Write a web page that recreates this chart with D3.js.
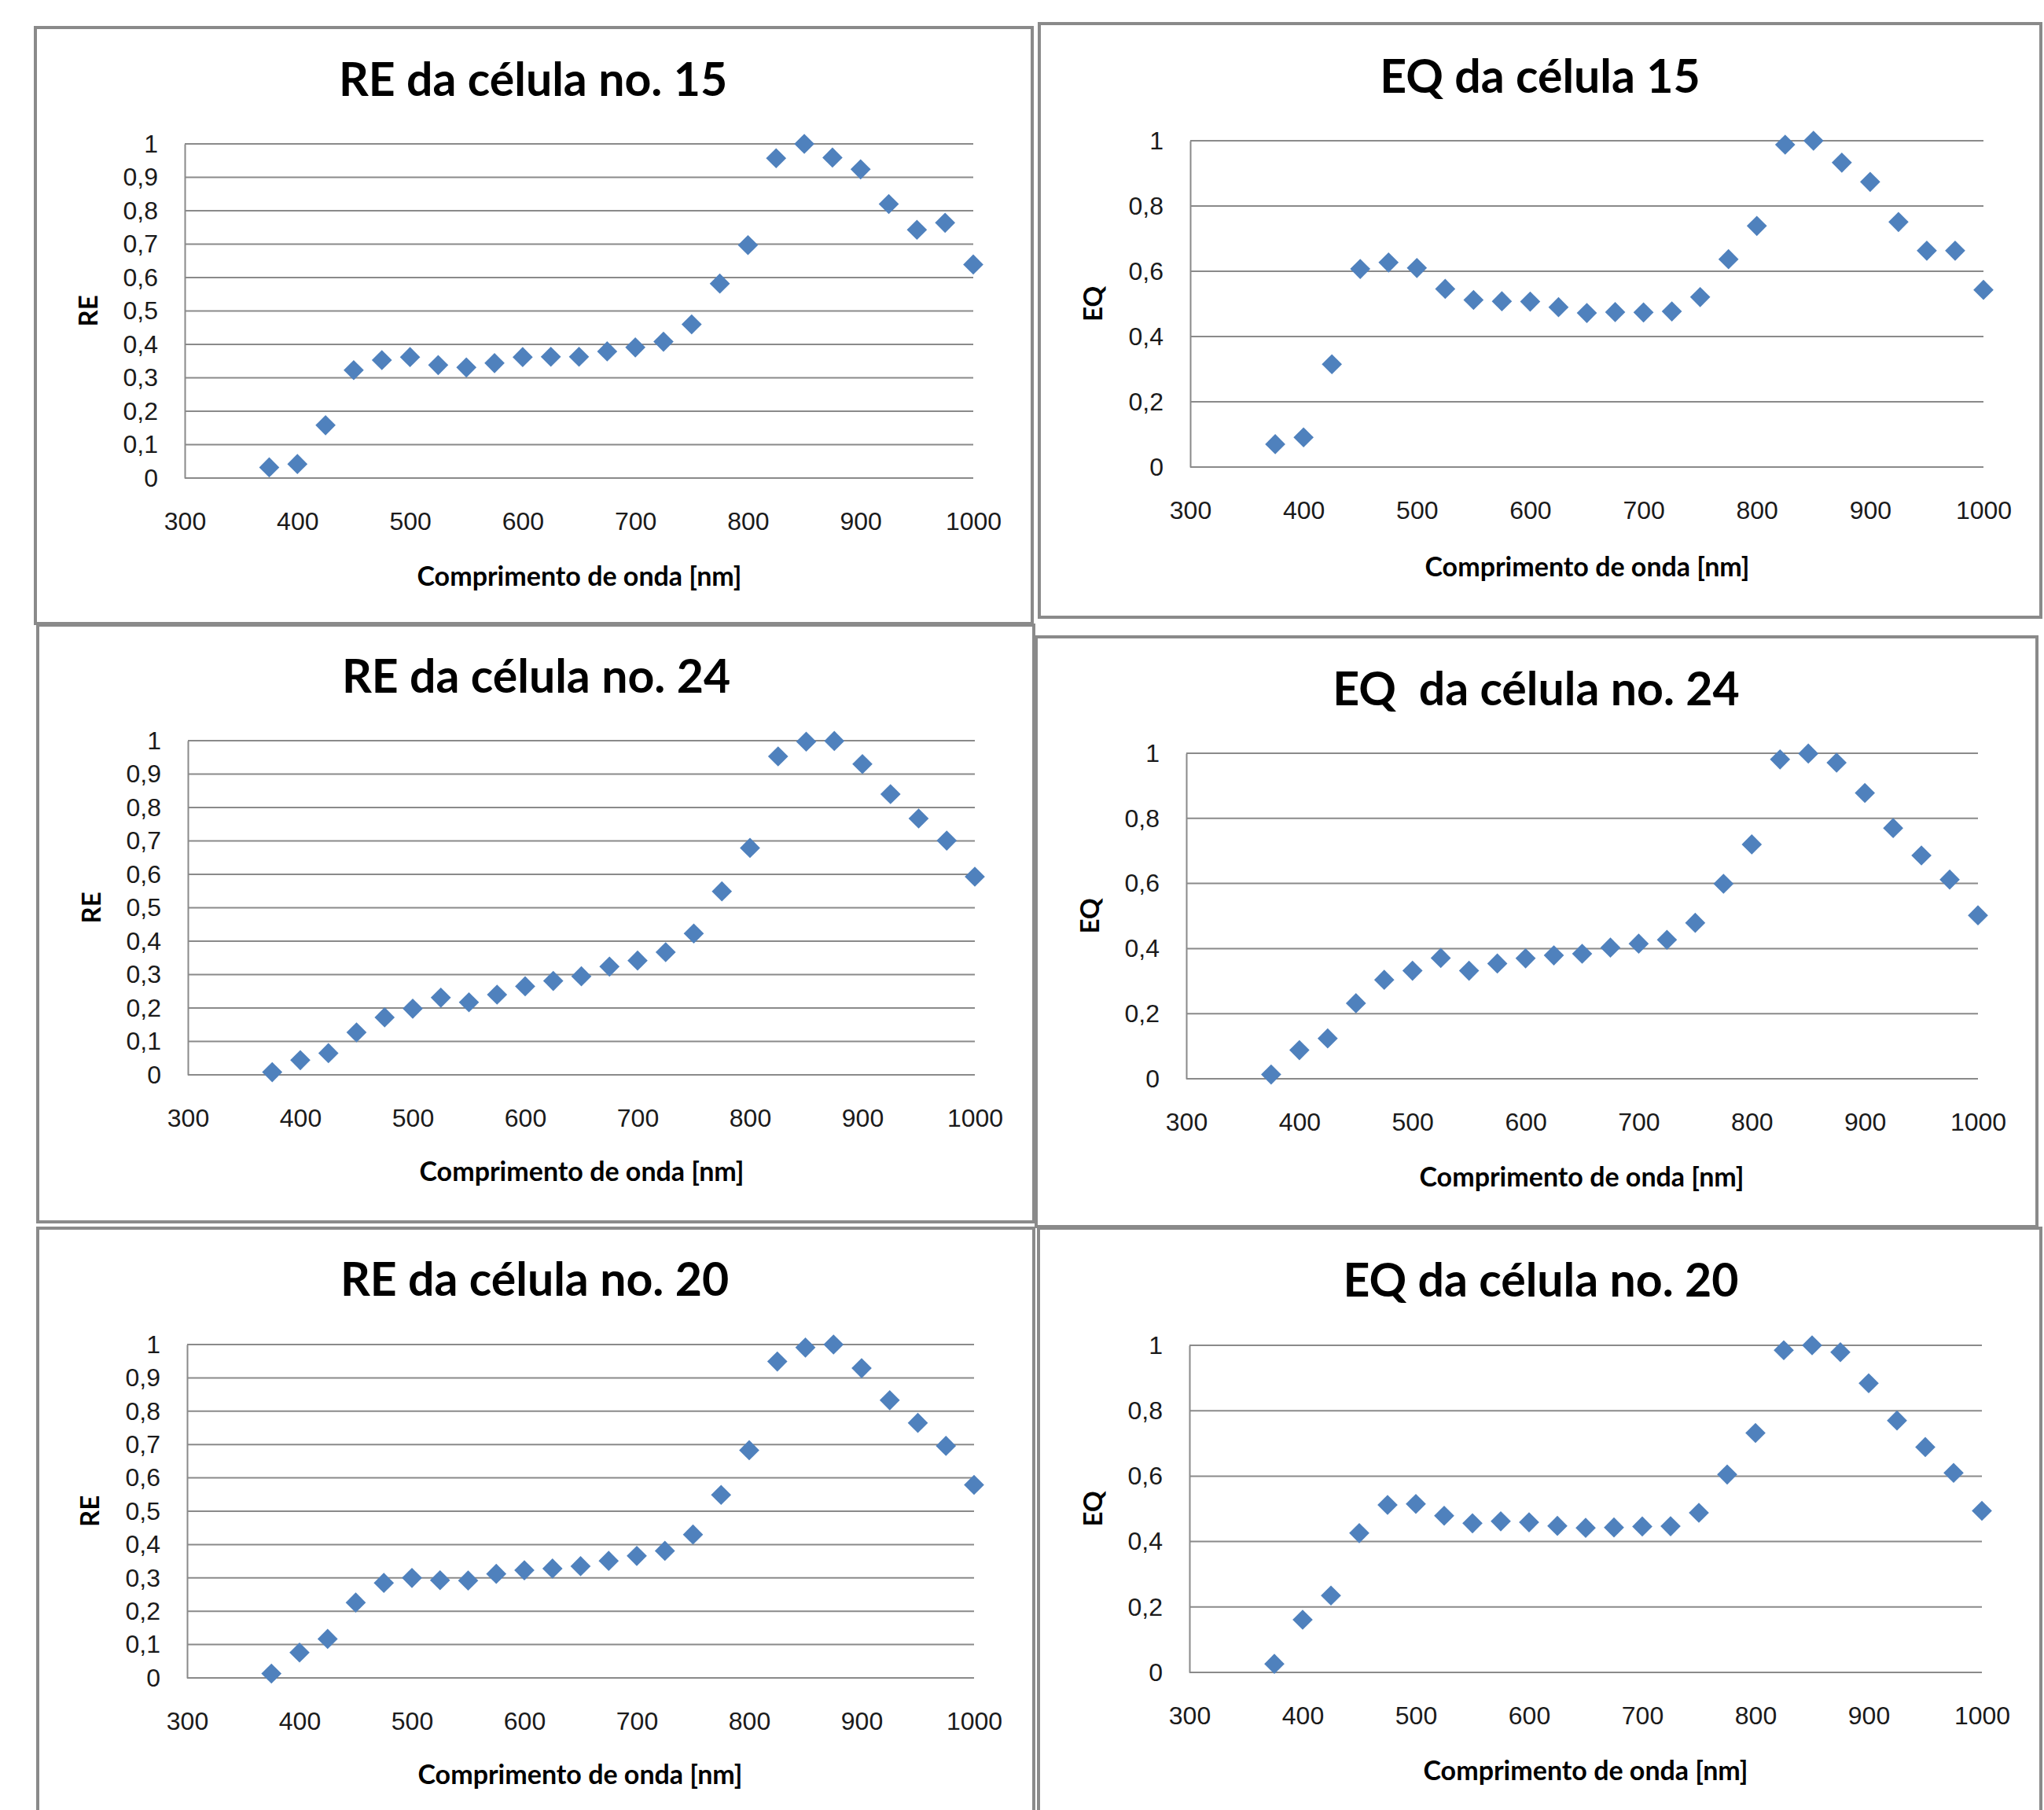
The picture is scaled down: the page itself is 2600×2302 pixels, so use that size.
<!DOCTYPE html>
<html>
<head>
<meta charset="utf-8">
<script src="https://cdn.jsdelivr.net/npm/d3@7"></script>
<style>
  body { margin: 0; background: #fff; }
  svg { display: block; font-family: Lato, "Open Sans", sans-serif; }
</style>
</head>
<body>
<svg id="chart" width="2600" height="2302"></svg>
<script>
// wavelengths (nm), same for every panel
const wavelengths = [375, 400, 425, 450, 475, 500, 525, 550, 575, 600, 625, 650, 675,
  700, 725, 750, 775, 800, 825, 850, 875, 900, 925, 950, 975, 1000];

const re15 = [0.032, 0.042, 0.158, 0.323, 0.353, 0.362, 0.338, 0.331, 0.344, 0.362, 0.363, 0.363, 0.379,
  0.391, 0.408, 0.46, 0.582, 0.697, 0.957, 1.0, 0.959, 0.924, 0.82, 0.743, 0.764, 0.639];
const eq15 = [0.07, 0.091, 0.315, 0.607, 0.627, 0.61, 0.546, 0.512, 0.508, 0.507, 0.49, 0.472, 0.475,
  0.474, 0.477, 0.521, 0.637, 0.739, 0.988, 1.0, 0.933, 0.874, 0.751, 0.663, 0.663, 0.543];
const re24 = [0.008, 0.044, 0.065, 0.127, 0.172, 0.198, 0.231, 0.217, 0.24, 0.265, 0.281, 0.295, 0.324,
  0.342, 0.367, 0.423, 0.549, 0.679, 0.953, 0.997, 0.999, 0.93, 0.84, 0.767, 0.701, 0.593];
const eq24 = [0.013, 0.088, 0.124, 0.232, 0.304, 0.332, 0.371, 0.332, 0.354, 0.37, 0.379, 0.384, 0.403,
  0.415, 0.427, 0.479, 0.599, 0.72, 0.981, 0.999, 0.971, 0.878, 0.77, 0.686, 0.612, 0.502];
const re20 = [0.013, 0.076, 0.117, 0.226, 0.285, 0.3, 0.293, 0.292, 0.312, 0.323, 0.328, 0.335, 0.351,
  0.366, 0.381, 0.43, 0.549, 0.683, 0.949, 0.991, 1.0, 0.929, 0.833, 0.765, 0.696, 0.579];
const eq20 = [0.026, 0.161, 0.235, 0.426, 0.512, 0.515, 0.479, 0.456, 0.462, 0.459, 0.448, 0.442, 0.443,
  0.446, 0.447, 0.488, 0.605, 0.732, 0.985, 1.0, 0.979, 0.884, 0.77, 0.689, 0.61, 0.494];

const xTicks = [300, 400, 500, 600, 700, 800, 900, 1000];
const reTicks = [0, 0.1, 0.2, 0.3, 0.4, 0.5, 0.6, 0.7, 0.8, 0.9, 1];
const eqTicks = [0, 0.2, 0.4, 0.6, 0.8, 1];

const xTitle = 'Comprimento de onda [nm]';

// layout of the six framed charts (pixel boxes)
const panels = [
  { title: 'RE da célula no. 15', ylab: 'RE', values: re15, ticks: reTicks,
    box: [45, 35, 1313, 793], plot: [235, 183, 1238, 608], titleX: 678, titleY: 122, xtX: 737, xtY: 745, ylX: 112 },
  { title: 'EQ da célula 15', ylab: 'EQ', values: eq15, ticks: eqTicks,
    box: [1322, 30, 2596, 785], plot: [1514, 179, 2523, 594], titleX: 1959, titleY: 118, xtX: 2019, xtY: 733, ylX: 1390 },
  { title: 'RE da célula no. 24', ylab: 'RE', values: re24, ticks: reTicks,
    box: [48, 795, 1315, 1554], plot: [239, 942, 1240, 1367], titleX: 682, titleY: 881, xtX: 740, xtY: 1502, ylX: 116 },
  { title: 'EQ  da célula no. 24', ylab: 'EQ', values: eq24, ticks: eqTicks,
    box: [1318, 810, 2591, 1560], plot: [1509, 958, 2516, 1372], titleX: 1954, titleY: 897, xtX: 2012, xtY: 1509, ylX: 1386 },
  { title: 'RE da célula no. 20', ylab: 'RE', values: re20, ticks: reTicks,
    box: [48, 1562, 1315, 2320], plot: [238, 1710, 1239, 2134], titleX: 680, titleY: 1648, xtX: 738, xtY: 2269, ylX: 114 },
  { title: 'EQ da célula no. 20', ylab: 'EQ', values: eq20, ticks: eqTicks,
    box: [1321, 1562, 2596, 2320], plot: [1513, 1711, 2521, 2127], titleX: 1960, titleY: 1649, xtX: 2017, xtY: 2264, ylX: 1390 }
];

const locale = d3.formatLocale({ decimal: ',', thousands: '.', grouping: [3], currency: ['', ''] });
const fmtY = locale.format('.1~f');

const svg = d3.select('#chart');
const gridColor = '#8a8a8a';
const markerColor = '#4f81bd';

panels.forEach(p => {
  const [bx0, by0, bx1, by1] = p.box;
  const [l, t, r, b] = p.plot;

  // frame
  svg.append('rect')
    .attr('x', bx0).attr('y', by0)
    .attr('width', bx1 - bx0).attr('height', by1 - by0)
    .attr('fill', 'none')
    .attr('stroke', '#8a8a8a')
    .attr('stroke-width', 4);

  const x = d3.scaleLinear().domain([300, 1000]).range([l, r]);
  const y = d3.scaleLinear().domain([0, 1]).range([b, t]);

  const g = svg.append('g');

  // horizontal gridlines
  g.selectAll('.grid')
    .data(p.ticks)
    .enter().append('line')
    .attr('x1', l).attr('x2', r)
    .attr('y1', d => y(d)).attr('y2', d => y(d))
    .attr('stroke', gridColor)
    .attr('stroke-width', 2);

  // y axis
  const yAxis = g.append('g')
    .attr('transform', `translate(${l},0)`)
    .call(d3.axisLeft(y).tickValues(p.ticks).tickSize(0).tickPadding(34).tickFormat(fmtY));
  yAxis.select('.domain').attr('stroke', gridColor).attr('stroke-width', 2);
  yAxis.selectAll('text')
    .style('font-size', '32px')
    .style('fill', '#1a1a1a');

  // x axis (labels only)
  const xAxis = g.append('g')
    .attr('transform', `translate(0,${b})`)
    .call(d3.axisBottom(x).tickValues(xTicks).tickSize(0).tickFormat(d3.format('d')));
  xAxis.select('.domain').remove();
  xAxis.selectAll('text')
    .attr('y', 66).attr('dy', 0)
    .style('font-size', '32px')
    .style('fill', '#1a1a1a');

  // markers
  const diamond = d3.symbol().type(d3.symbolSquare).size(330);
  g.selectAll('.pt')
    .data(p.values)
    .enter().append('path')
    .attr('d', diamond)
    .attr('transform', (d, i) => `translate(${x(wavelengths[i])},${y(d)}) rotate(45)`)
    .attr('fill', markerColor);

  // titles
  svg.append('text')
    .attr('x', p.titleX).attr('y', p.titleY)
    .attr('text-anchor', 'middle')
    .style('font-size', '59px')
    .style('font-weight', 'bold')
    .style('white-space', 'pre')
    .text(p.title);

  svg.append('text')
    .attr('x', p.xtX).attr('y', p.xtY)
    .attr('text-anchor', 'middle')
    .style('font-size', '34px')
    .style('font-weight', 'bold')
    .text(xTitle);

  svg.append('text')
    .attr('transform', `translate(${p.ylX + 12},${(t + b) / 2}) rotate(-90)`)
    .attr('text-anchor', 'middle')
    .style('font-size', '33px')
    .style('font-weight', 'bold')
    .text(p.ylab);
});
</script>
</body>
</html>
